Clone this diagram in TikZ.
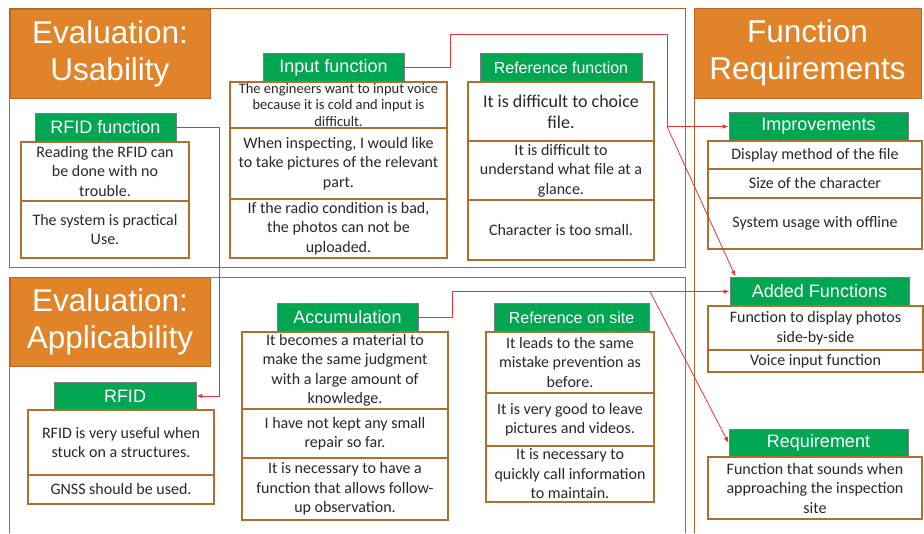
\documentclass[tikz,border=0pt]{standalone}
\usepackage{fontspec}
\usetikzlibrary{arrows.meta}
\newfontfamily\headfont{Liberation Sans}
\newfontfamily\bodyfont{Carlito}
\definecolor{titleorange}{RGB}{225,131,40}
\definecolor{titleedge}{RGB}{184,104,34}
\definecolor{headgreen}{RGB}{0,166,81}
\definecolor{headedge}{RGB}{125,125,125}
\definecolor{celledge}{RGB}{172,112,48}
\definecolor{paneledge}{RGB}{172,102,42}
\definecolor{celltext}{RGB}{40,40,40}
\definecolor{linkred}{RGB}{232,52,52}
\tikzset{
  title/.style={fill=titleorange,draw=titleedge,line width=0.8pt,text=white,align=center,
    inner sep=0pt,font=\headfont\fontsize{31.5}{37}\selectfont},
  head/.style={fill=headgreen,draw=headedge,line width=0.8pt,text=white,inner sep=0pt,
    font=\headfont\fontsize{18}{20}\selectfont},
  cell/.style={draw=celledge,line width=1.3pt,fill=white,text=celltext,align=center,
    inner sep=1pt,font=\bodyfont\fontsize{16}{19.5}\selectfont},
  panel/.style={draw=paneledge,line width=1pt},
  link/.style={draw=linkred,line width=0.8pt,-{Latex[length=6pt,width=4.5pt]}}
}
\begin{document}
\begin{tikzpicture}[x=1pt,y=-1pt]
  \useasboundingbox (0,0) rectangle (924,533);
  % panels
  \draw[panel] (9,8) rectangle (685,267);
  \draw[panel] (9,533) -- (9,277) -- (685,277) -- (685,533);
  \draw[panel] (694,90) -- (694,533);
  \node[title,minimum width=200,minimum height=89] (usab) at (110,53.5) {Evaluation:\\Usability};
  \node[title,minimum width=200,minimum height=89] (appl) at (110,321.5) {Evaluation:\\Applicability};
  \node[title,minimum width=227,minimum height=90] (freq) at (807.5,53) {Function\\Requirements};

  % Usability
  \node[head,minimum width=141,minimum height=29] (rfidf) at (105.5,127.5) {RFID function};
  \node[cell,minimum width=168,minimum height=59] (rfidf1) at (105,171.5) {Reading the RFID can\\be done with no\\trouble.};
  \node[cell,minimum width=168,minimum height=57] (rfidf2) at (105,229.5) {The system is practical\\Use.};

  \node[head,minimum width=141,minimum height=29] (input) at (333.5,67.5) {Input function};
  \node[cell,minimum width=217,minimum height=46,inner ysep=0pt,
        font=\bodyfont\fontsize{14.5}{16.5}\selectfont] (input1) at (338.5,105)
        {The engineers want to input voice\\because it is cold and input is\\difficult.};
  \node[cell,minimum width=217,minimum height=71] (input2) at (338.5,163.5) {When inspecting, I would like\\to take pictures of the relevant\\part.};
  \node[cell,minimum width=217,minimum height=59] (input3) at (338.5,228.5) {If the radio condition is bad,\\the photos can not be\\uploaded.};

  \node[head,minimum width=162,minimum height=29,font=\headfont\fontsize{16}{18}\selectfont] (ref) at (561,67.5) {Reference function};
  \node[cell,minimum width=186,minimum height=59,font=\bodyfont\fontsize{18}{21}\selectfont] (ref1) at (561,111.5) {It is difficult to choice\\file.};
  \node[cell,minimum width=186,minimum height=59] (ref2) at (561,170.5) {It is difficult to\\understand what file at a\\glance.};
  \node[cell,minimum width=186,minimum height=60] (ref3) at (561,230) {Character is too small.};

  % Applicability
  \node[head,minimum width=142,minimum height=28] (rfid) at (125,396) {RFID};
  \node[cell,minimum width=186,minimum height=65] (rfid1) at (121,442.5) {RFID is very useful when\\stuck on a structures.};
  \node[cell,minimum width=186,minimum height=29] (rfid2) at (121,489.5) {GNSS should be used.};

  \node[head,minimum width=141,minimum height=29] (accu) at (347.5,317.5) {Accumulation};
  \node[cell,minimum width=206,minimum height=77] (accu1) at (345,370.5) {It becomes a material to\\make the same judgment\\with a large amount of\\knowledge.};
  \node[cell,minimum width=206,minimum height=49] (accu2) at (345,433.5) {I have not kept any small\\repair so far.};
  \node[cell,minimum width=206,minimum height=62] (accu3) at (345,489) {It is necessary to have a\\function that allows follow-\\up observation.};

  \node[head,minimum width=155,minimum height=29,font=\headfont\fontsize{16}{18}\selectfont] (site) at (571.5,317.5) {Reference on site};
  \node[cell,minimum width=168,minimum height=61] (site1) at (570,362.5) {It leads to the same\\mistake prevention as\\before.};
  \node[cell,minimum width=168,minimum height=53] (site2) at (570,419.5) {It is very good to leave\\pictures and videos.};
  \node[cell,minimum width=168,minimum height=56] (site3) at (570,474) {It is necessary to\\quickly call information\\to maintain.};

  % Function requirements
  \node[head,minimum width=179,minimum height=29] (impr) at (818.5,126.5) {Improvements};
  \node[cell,minimum width=214,minimum height=28] (impr1) at (815,155) {Display method of the file};
  \node[cell,minimum width=214,minimum height=29] (impr2) at (815,183.5) {Size of the character};
  \node[cell,minimum width=214,minimum height=51] (impr3) at (815,223.5) {System usage with offline};

  \node[head,minimum width=179,minimum height=29] (added) at (819.5,291.5) {Added Functions};
  \node[cell,minimum width=215,minimum height=44] (added1) at (815.5,328) {Function to display photos\\side-by-side};
  \node[cell,minimum width=215,minimum height=22] (added2) at (815.5,361) {Voice input function};

  \node[head,minimum width=179,minimum height=28] (reqm) at (818.5,443) {Requirement};
  \node[cell,minimum width=214,minimum height=62] (reqm1) at (815,488) {Function that sounds when\\approaching the inspection\\site};

  % connectors
  \coordinate (up1) at (450,34);
  \coordinate (j1) at (667,126.5);
  \coordinate (up2) at (452,291.5);
  \coordinate (j2) at (650,291.5);
  \coordinate (dn) at (219,396);
  \draw[link] (input.east) -| (up1) -| (j1) -- (impr.west);
  \draw[link] (j1) -- ([xshift=6pt]added.north west);
  \draw[link] (accu.east) -| (up2) -- (added.west);
  \draw[link] (j2) -- (reqm.west);
  \draw[link] (rfidf.east) -| (dn) -- (rfid.east);
\end{tikzpicture}
\end{document}
